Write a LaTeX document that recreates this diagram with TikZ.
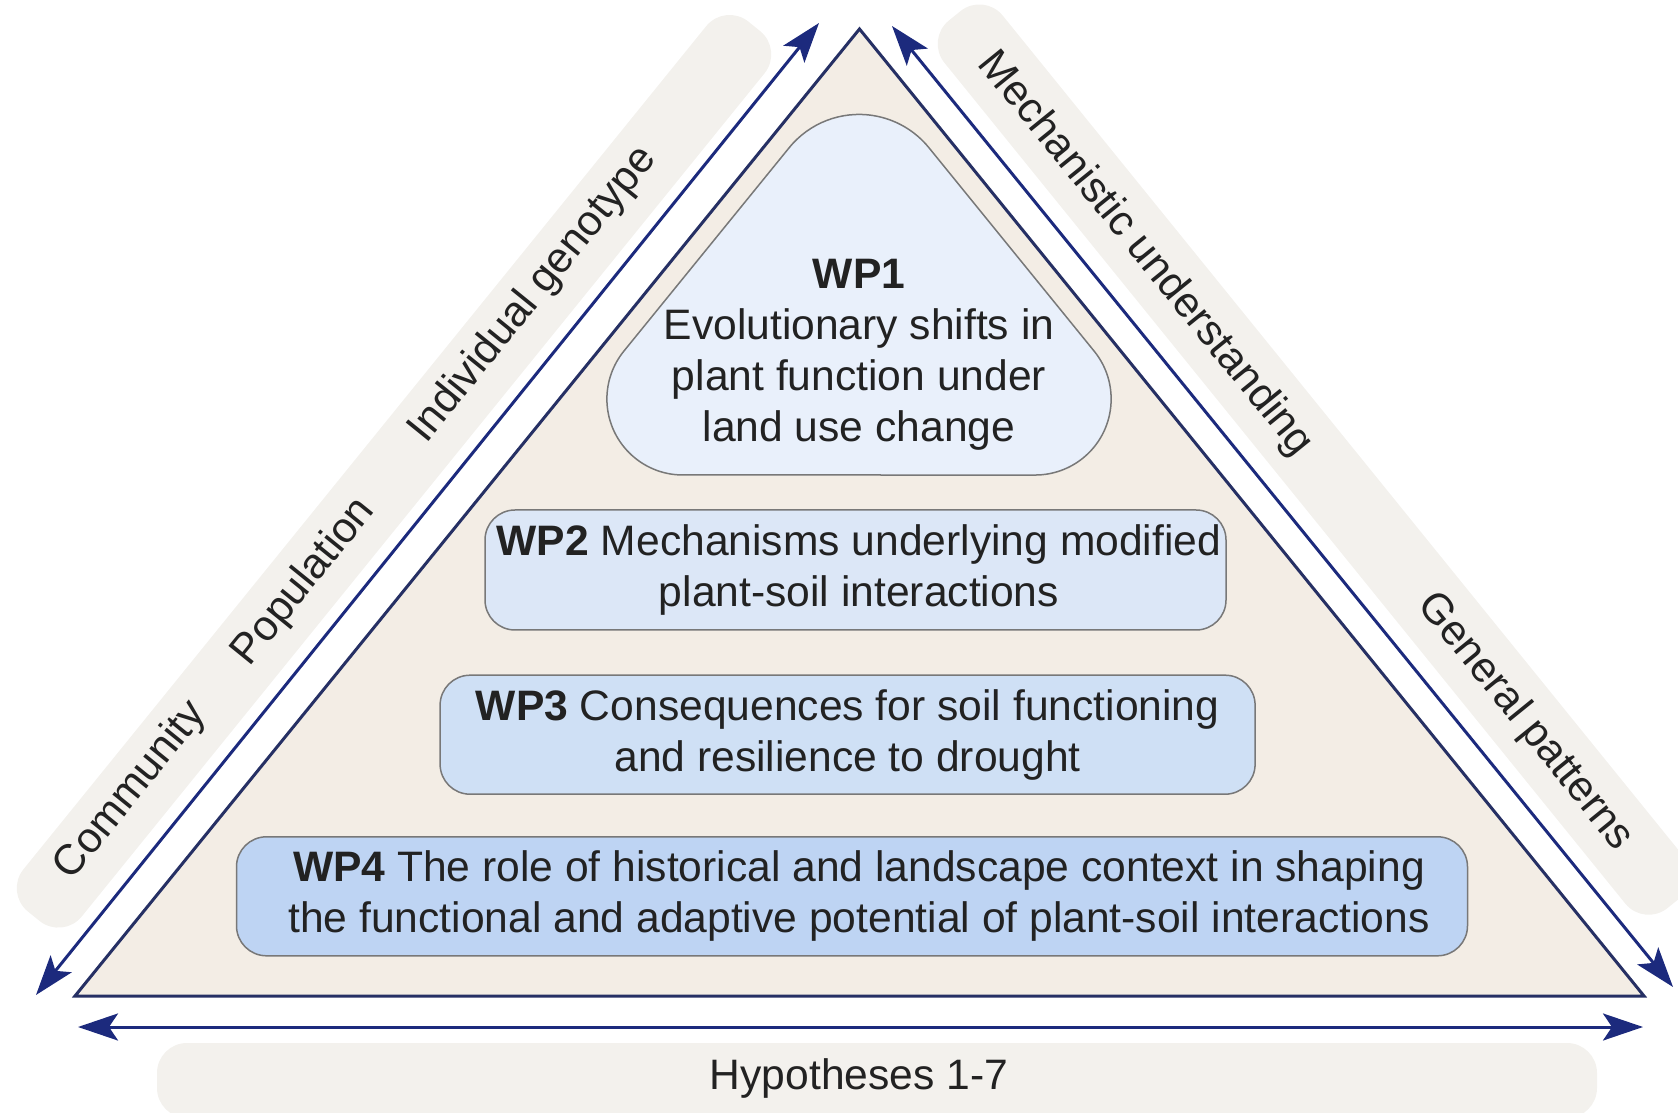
\documentclass[tikz,border=0pt]{standalone}
\usepackage{fontspec}
\setmainfont{Liberation Sans}
\usetikzlibrary{arrows.meta}
\definecolor{tri}{RGB}{243,237,229}
\definecolor{pill}{RGB}{243,241,237}
\definecolor{edge}{RGB}{38,48,100}
\definecolor{arr}{RGB}{28,42,125}
\definecolor{wpone}{RGB}{233,240,251}
\definecolor{wptwo}{RGB}{220,231,247}
\definecolor{wpthree}{RGB}{207,224,245}
\definecolor{wpfour}{RGB}{190,212,243}
\definecolor{wpborder}{RGB}{120,120,120}
\definecolor{txt}{RGB}{34,34,34}
\begin{document}
\begin{tikzpicture}[x=1pt,y=1pt,
  lbl/.style={font=\fontsize{42.6}{51}\selectfont, text=txt, inner sep=0pt},
  band/.style={fill=pill, rounded corners=30pt, draw=none, inner sep=0pt},
  wpbox/.style={draw=wpborder, line width=1.5pt, rounded corners=30pt, font=\fontsize{42.6}{51}\selectfont, text=txt, align=center, inner sep=0pt},
  tipa/.tip={Stealth[length=40pt,width=27pt,inset=9pt]},
  scalearrow/.style={draw=arr, line width=3pt, tipa-tipa},
]
\useasboundingbox (0,0) rectangle (1678,1112);
\clip (0,0) rectangle (1678,1112);

% background bands
\node[band, minimum width=1145pt, minimum height=75pt, rotate=51] (lband) at (394,640.7) {};
\node[band, minimum width=1142pt, minimum height=75pt, rotate=-51] (rband) at (1314,652.4) {};
\node[band, minimum width=1440pt, minimum height=75pt] (bband) at (877,31.5) {};

% main triangle
\coordinate (A) at (75,116);
\coordinate (B) at (1644,116);
\coordinate (C) at (859.5,1083);
\draw[fill=tri, draw=edge, line width=3pt, line join=miter] (A) -- (B) -- (C) -- cycle;

% WP1 rounded triangle
\draw[fill=wpone, draw=wpborder, line width=1.5pt]
  (859,637) -- (682.9,637) arc[start angle=270, end angle=141, radius=76]
  -- (789.1,964.2) arc[start angle=141, end angle=39, radius=90]
  -- (1094.2,760.8) arc[start angle=39, end angle=-90, radius=76] -- cycle;
\node[lbl, align=center] (wp1) at (859,757)
  {\textbf{WP1}\\Evolutionary shifts in\\plant function under\\land use change};

% WP2-4 boxes
\node[wpbox, fill=wptwo, minimum width=741pt, minimum height=120pt] (wp2) at (855.5,542)
  {\hspace*{7pt}\textbf{WP2} Mechanisms underlying modified\\\hspace*{7pt}plant-soil interactions};
\node[wpbox, fill=wpthree, minimum width=815pt, minimum height=119pt] (wp3) at (847.6,377.3)
  {\textbf{WP3} Consequences for soil functioning\\and resilience to drought};
\node[wpbox, fill=wpfour, minimum width=1231pt, minimum height=119pt] (wp4) at (852,215.7)
  {\hspace*{14pt}\textbf{WP4} The role of historical and landscape context in shaping\\\hspace*{14pt}the functional and adaptive potential of plant-soil interactions};

% arrows
\coordinate (l1) at (36,117);
\coordinate (l2) at (819,1089);
\coordinate (r1) at (892,1086);
\coordinate (r2) at (1673,125);
\coordinate (b1) at (78,85);
\coordinate (b2) at (1643,85);
\draw[scalearrow] (l1) -- (l2);
\draw[scalearrow] (r1) -- (r2);
\draw[scalearrow] (b1) -- (b2);

% side labels
\node[lbl, rotate=51] (community) at (131,321) {Community};
\node[lbl, rotate=51] (population) at (304,530) {Population};
\node[lbl, rotate=51] (indiv) at (533,817) {Individual genotype};
\node[lbl, rotate=-51] (mech) at (1145,858) {Mechanistic understanding};
\node[lbl, rotate=-51] (general) at (1525,390) {General patterns};
\node[lbl] (hyp) at (859,34) {Hypotheses 1-7};
\end{tikzpicture}
\end{document}
